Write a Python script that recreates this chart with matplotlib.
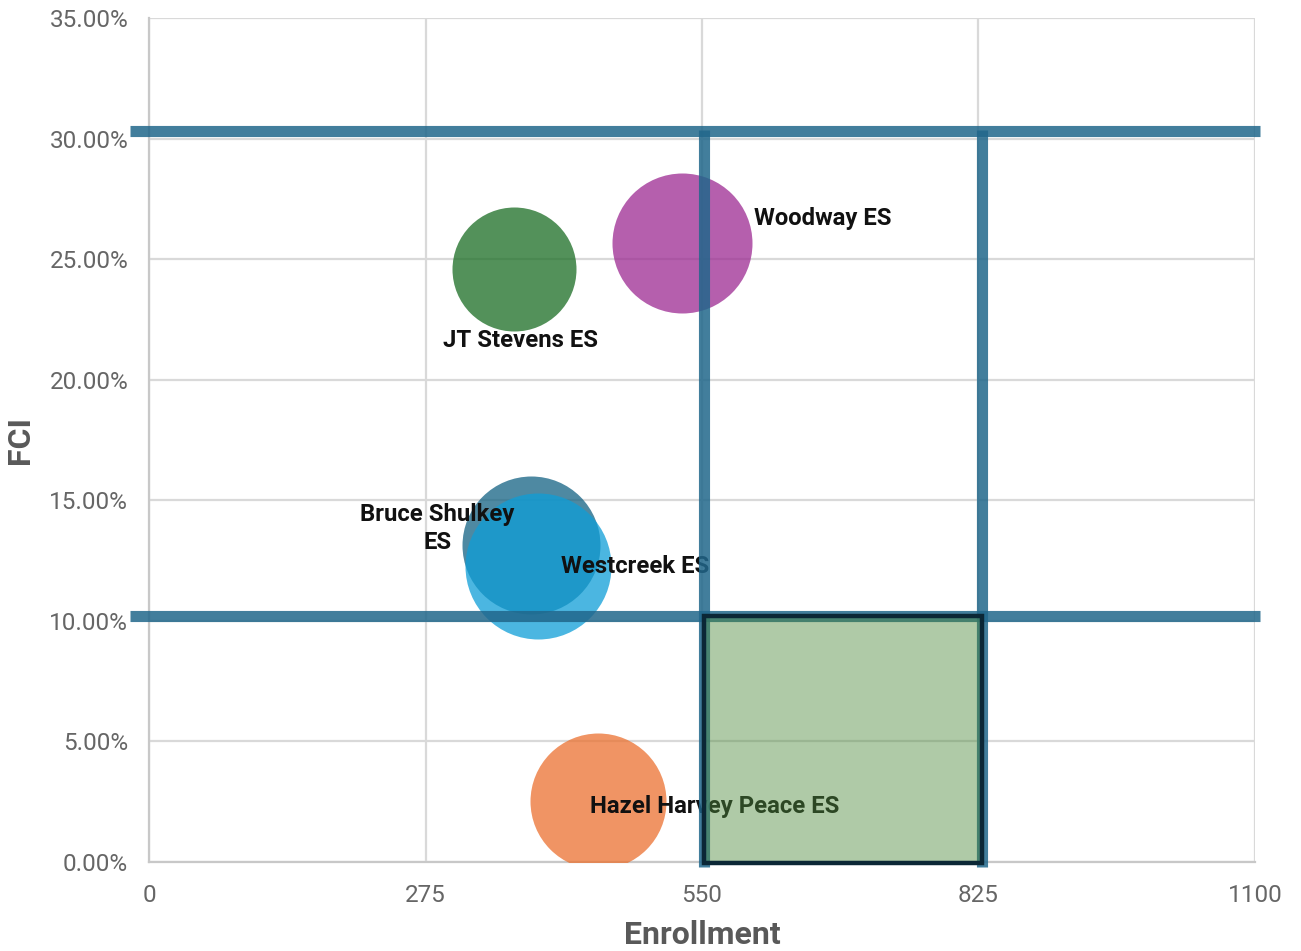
import matplotlib
matplotlib.use('Agg')
import matplotlib.pyplot as plt
from matplotlib.patches import Rectangle
from matplotlib.ticker import PercentFormatter

plt.rcParams['font.family'] = ['Roboto', 'DejaVu Sans']

# data
schools = ['Woodway ES', 'JT Stevens ES', 'Bruce Shulkey ES', 'Westcreek ES', 'Hazel Harvey Peace ES']
enrollment = [530, 363, 380, 387, 447]
fci = [0.2567, 0.2459, 0.1315, 0.1226, 0.0253]
bubble_val = [70, 62, 69, 73, 68]
colors = ['#9c2a92', '#1a6d23', '#136283', '#0f9ed7', '#eb7130']

# target zone
enroll_lo, enroll_hi = 552, 828
fci_lo, fci_hi = 0.102, 0.303

x_ticks = [0, 275, 550, 825, 1100]
y_ticks = [0, 0.05, 0.10, 0.15, 0.20, 0.25, 0.30, 0.35]

lineColor = (33/255, 103/255, 139/255)
textGray = '#666666'

fig = plt.figure(figsize=(13.01, 9.51), dpi=100)
ax = fig.add_axes([149/1301, 89/951, 1106/1301, 844/951])
ax.set_xlim(0, 1100)
ax.set_ylim(0, 0.35)
ax.set_xticks(x_ticks)
ax.set_yticks(y_ticks)
ax.yaxis.set_major_formatter(PercentFormatter(1.0, decimals=2))
ax.grid(True, color='#d9d9d9', linewidth=1.6)
ax.set_axisbelow(True)
for s in ['top', 'right']:
    ax.spines[s].set_visible(False)
for s in ['left', 'bottom']:
    ax.spines[s].set_color('#c8c8c8')
    ax.spines[s].set_linewidth(1.6)
ax.tick_params(length=0, labelsize=17.5, labelcolor=textGray)
ax.tick_params(axis='x', pad=16)
ax.tick_params(axis='y', pad=15)
ax.set_xlabel('Enrollment', fontsize=23, fontweight='bold', color='#595959')
ax.set_ylabel('FCI', fontsize=23, fontweight='bold', color='#595959')
ax.xaxis.set_label_coords(0.5, -0.069)
ax.yaxis.set_label_coords(-0.103, 0.5)

# bubbles (diameter in points from bubble value in px)
sizes = [(2 * v * 0.72) ** 2 for v in bubble_val]
for i in range(len(schools)):
    ax.scatter(enrollment[i], fci[i], s=sizes[i], color=colors[i], alpha=0.75,
               linewidths=0, zorder=3)

# labels
lab = dict(fontsize=17.2, fontweight='bold', color='#111111', zorder=4)
ax.text(602, 0.2642, 'Woodway ES', ha='left', va='baseline', **lab)
ax.text(369, 0.2137, 'JT Stevens ES', ha='center', va='baseline', **lab)
ax.text(287, 0.1414, 'Bruce Shulkey', ha='center', va='baseline', **lab)
ax.text(287, 0.1298, 'ES', ha='center', va='baseline', **lab)
ax.text(410, 0.1198, 'Westcreek ES', ha='left', va='baseline', **lab)
ax.text(439, 0.0203, 'Hazel Harvey Peace ES', ha='left', va='baseline', **lab)

# threshold lines
for yv in [fci_lo, fci_hi]:
    ax.plot([-19, 1105], [yv, yv], color=lineColor, alpha=0.85, linewidth=8,
            solid_capstyle='butt', clip_on=False, zorder=5)
for xv in [enroll_lo, enroll_hi]:
    ax.plot([xv, xv], [-0.002, fci_hi + 0.0005], color=lineColor, alpha=0.85, linewidth=8,
            solid_capstyle='butt', clip_on=False, zorder=5)

# highlighted target box
ax.add_patch(Rectangle((enroll_lo, -0.0005), enroll_hi - enroll_lo, fci_lo + 0.0005,
                       facecolor=(78/255, 138/255, 60/255, 0.45),
                       edgecolor='#0b2736', linewidth=3.2, clip_on=False, zorder=6))

fig.savefig('out.png', dpi=100)
